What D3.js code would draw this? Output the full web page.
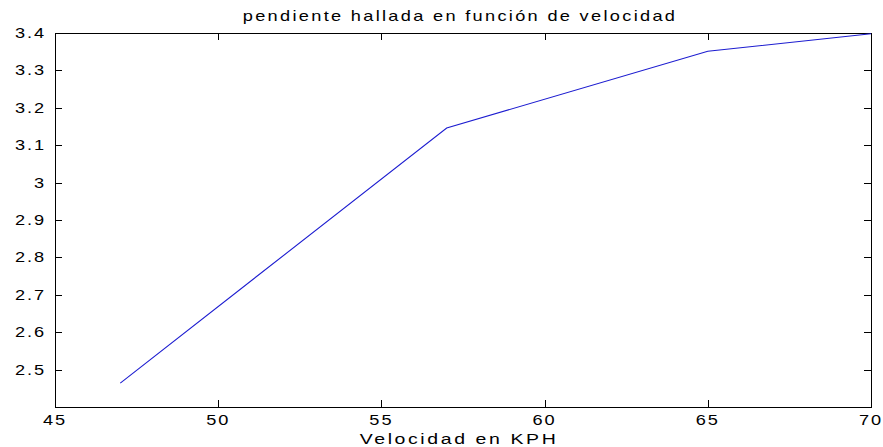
<!DOCTYPE html>
<html>
<head>
<meta charset="utf-8">
<script src="https://cdn.jsdelivr.net/npm/d3@7/dist/d3.min.js"></script>
<style>
  html, body { margin: 0; padding: 0; background: #fff; }
  svg { display: block; }
  text { font-family: "Liberation Sans", Arial, sans-serif; fill: #000; }
</style>
</head>
<body>
<svg id="chart" width="883" height="447"></svg>
<script>
// Slope found as a function of speed
const speedKph = [47, 57, 65, 70];
const slope = [2.464, 3.146, 3.351, 3.398];
const xTicks = [45, 50, 55, 60, 65, 70];
const yTicks = [2.5, 2.6, 2.7, 2.8, 2.9, 3.0, 3.1, 3.2, 3.3, 3.4];
const titleText = "pendiente hallada en función de velocidad";
const xLabelText = "Velocidad en KPH";

const W = 883, H = 447;
const m = { left: 55, right: 12, top: 33, bottom: 40 };
const svg = d3.select("#chart");

const x = d3.scaleLinear().domain([45, 70]).range([m.left, W - m.right]);
const y = d3.scaleLinear().domain([2.4, 3.4]).range([H - m.bottom, m.top]);

const x0 = x.range()[0], x1 = x.range()[1];
const y0 = y.range()[0], y1 = y.range()[1];

// Wide, spaced lettering
const SX = 1.3;
function label(g, txt, px, py, anchor, size, spacing) {
  return g.append("text")
    .attr("transform", `translate(${px},${py}) scale(${SX},1)`)
    .attr("text-anchor", anchor)
    .style("font-size", size + "px")
    .style("letter-spacing", spacing + "px")
    .text(txt);
}

// Axes box
svg.append("rect")
  .attr("x", x0 + 0.5).attr("y", y1 + 0.5)
  .attr("width", x1 - x0).attr("height", y0 - y1)
  .attr("fill", "#fff").attr("stroke", "#000").attr("stroke-width", 1);

const TL = 7;
const ticks = svg.append("g").attr("stroke", "#000").attr("stroke-width", 1);
xTicks.forEach(v => {
  const px = Math.round(x(v)) + 0.5;
  ticks.append("line").attr("x1", px).attr("x2", px).attr("y1", y0).attr("y2", y0 - TL);
  ticks.append("line").attr("x1", px).attr("x2", px).attr("y1", y1).attr("y2", y1 + TL);
});
yTicks.forEach(v => {
  const py = Math.round(y(v)) + 0.5;
  ticks.append("line").attr("x1", x0).attr("x2", x0 + TL).attr("y1", py).attr("y2", py);
  ticks.append("line").attr("x1", x1).attr("x2", x1 - TL).attr("y1", py).attr("y2", py);
});

const labels = svg.append("g");
xTicks.forEach(v => {
  label(labels, d3.format("d")(v), x(v), y0 + 18, "middle", 14, 1.5);
});
yTicks.forEach(v => {
  const s = Number.isInteger(v) ? String(v) : d3.format(".1f")(v);
  label(labels, s, x0 - 9, y(v) + 5, "end", 14, 1.5);
});

// Data line
const line = d3.line().x((d, i) => x(speedKph[i])).y(d => y(d));
svg.append("path")
  .datum(slope)
  .attr("d", line)
  .attr("fill", "none")
  .attr("stroke", "#1c1cd0")
  .attr("stroke-width", 1.1);

// Title and axis label
label(svg, titleText, 460, 21, "middle", 14, 1.78);
label(svg, xLabelText, 459, 444, "middle", 15, 2.0);
</script>
</body>
</html>
